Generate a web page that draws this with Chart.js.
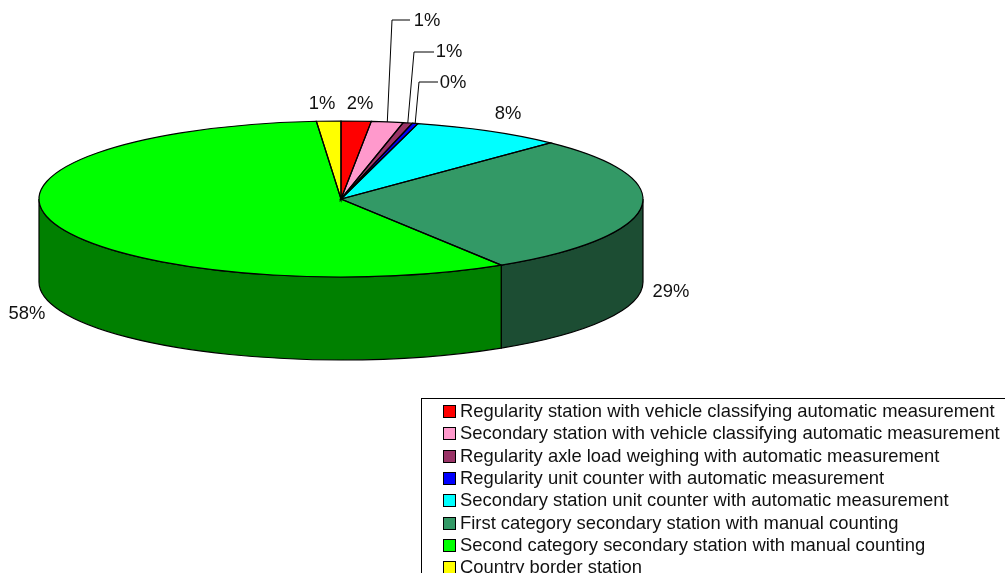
<!DOCTYPE html>
<html>
<head>
<meta charset="utf-8">
<title>Station types</title>
<script src="https://cdn.jsdelivr.net/npm/chart.js@4"></script>
<style>
    html, body { margin: 0; padding: 0; background: #fff; overflow: hidden; height: 573px; }
    canvas { position: absolute; left: 0; top: 0; }
    #legend {
        position: absolute; left: 421px; top: 398px; width: 620px; height: 220px;
        border: 1px solid #000; box-sizing: border-box;
        font: 18.4px "Liberation Sans", Arial, sans-serif; color: #111;
    }
    .row { position: absolute; left: 21px; height: 22px; line-height: 22px; white-space: nowrap; }
    .row i { position: absolute; left: 0; top: 5px; width: 11px; height: 11px; border: 1px solid #000; }
    .row span { margin-left: 17px; }
</style>
</head>
<body>
<canvas id="pie" width="1005" height="640"></canvas>
<div id="legend"></div>
<script>
const categories = [
    'Regularity station with vehicle classifying automatic measurement',
    'Secondary station with vehicle classifying automatic measurement',
    'Regularity axle load weighing with automatic measurement',
    'Regularity unit counter with automatic measurement',
    'Secondary station unit counter with automatic measurement',
    'First category secondary station with manual counting',
    'Second category secondary station with manual counting',
    'Country border station'
];
const values = [1.6, 1.7, 0.5, 0.3, 8.1, 28.9, 57.6, 1.3];
const percentLabels = ['2%', '1%', '1%', '0%', '8%', '29%', '58%', '1%'];
const topColors = ['#ff0000', '#ff99cc', '#993366', '#0000ff', '#00ffff', '#339966', '#00ff00', '#ffff00'];
const sideColors = ['#800000', '#804c66', '#4c1933', '#000080', '#008080', '#1c4d33', '#008000', '#808000'];

// where each percent label sits, leader = elbow for the ones with a line
const labelSpots = [
    { x: 360, y: 104 },
    { x: 427, y: 21, leader: [392, 20, 410, 20] },
    { x: 449, y: 52, leader: [414, 52, 434, 52] },
    { x: 453, y: 83, leader: [419, 82, 438, 82] },
    { x: 508, y: 114 },
    { x: 671, y: 292 },
    { x: 27, y: 314 },
    { x: 322, y: 104 }
];

const pieTop = 199;   // centre of the top face on the page
const tilt = 78 / 302;
const depth = 83;

const pie3d = {
    id: 'pie3d',
    beforeDatasetsDraw(chart) {
        const ctx = chart.ctx;
        const arcs = chart.getDatasetMeta(0).data;
        const first = arcs[0];
        const rx = first.outerRadius;
        const ry = rx * tilt;

        // walls, only the front half of the ellipse shows
        arcs.forEach((arc, i) => {
            const s = Math.max(arc.startAngle, 0);
            const e = Math.min(arc.endAngle, Math.PI);
            if (s >= e) return;
            ctx.beginPath();
            ctx.ellipse(arc.x, pieTop, rx, ry, 0, s, e);
            ctx.ellipse(arc.x, pieTop + depth, rx, ry, 0, e, s, true);
            ctx.closePath();
            ctx.fillStyle = sideColors[i];
            ctx.fill();
            ctx.strokeStyle = '#000';
            ctx.lineWidth = 1.2;
            ctx.stroke();
        });

        // squash the library's round pie into the top face
        ctx.save();
        ctx.translate(0, pieTop);
        ctx.scale(1, tilt);
        ctx.translate(0, -first.y);
    },
    afterDatasetsDraw(chart) {
        const ctx = chart.ctx;
        ctx.restore();
        const arcs = chart.getDatasetMeta(0).data;
        const rx = arcs[0].outerRadius;
        const ry = rx * tilt;

        ctx.strokeStyle = '#000';
        ctx.lineWidth = 1.2;
        arcs.forEach(arc => {
            ctx.beginPath();
            ctx.moveTo(arc.x, pieTop);
            ctx.ellipse(arc.x, pieTop, rx, ry, 0, arc.startAngle, arc.endAngle);
            ctx.closePath();
            ctx.stroke();
        });

        ctx.font = '18.4px "Liberation Sans", Arial, sans-serif';
        ctx.textAlign = 'center';
        ctx.textBaseline = 'middle';
        arcs.forEach((arc, i) => {
            const spot = labelSpots[i];
            if (spot.leader) {
                const mid = (arc.startAngle + arc.endAngle) / 2;
                ctx.beginPath();
                ctx.moveTo(arc.x + rx * Math.cos(mid), pieTop + ry * Math.sin(mid));
                ctx.lineTo(spot.leader[0], spot.leader[1]);
                ctx.lineTo(spot.leader[2], spot.leader[3]);
                ctx.lineWidth = 1;
                ctx.stroke();
            }
            ctx.fillStyle = '#111';
            ctx.fillText(percentLabels[i], spot.x, spot.y);
        });
    }
};

new Chart(document.getElementById('pie'), {
    type: 'pie',
    data: {
        labels: categories,
        datasets: [{
            data: values,
            backgroundColor: topColors,
            borderWidth: 0
        }]
    },
    options: {
        responsive: false,
        animation: false,
        layout: { padding: { left: 39, right: 362, top: 0, bottom: 0 } },
        plugins: {
            legend: { display: false },
            tooltip: { enabled: false }
        }
    },
    plugins: [pie3d]
});

const legendDiv = document.getElementById('legend');
categories.forEach((name, i) => {
    const row = document.createElement('div');
    row.classList.add('row');
    row.style.top = (1 + i * 22.3) + 'px';
    row.innerHTML = `<i style="background:${topColors[i]}"></i><span>${name}</span>`;
    legendDiv.appendChild(row);
});
</script>
</body>
</html>
